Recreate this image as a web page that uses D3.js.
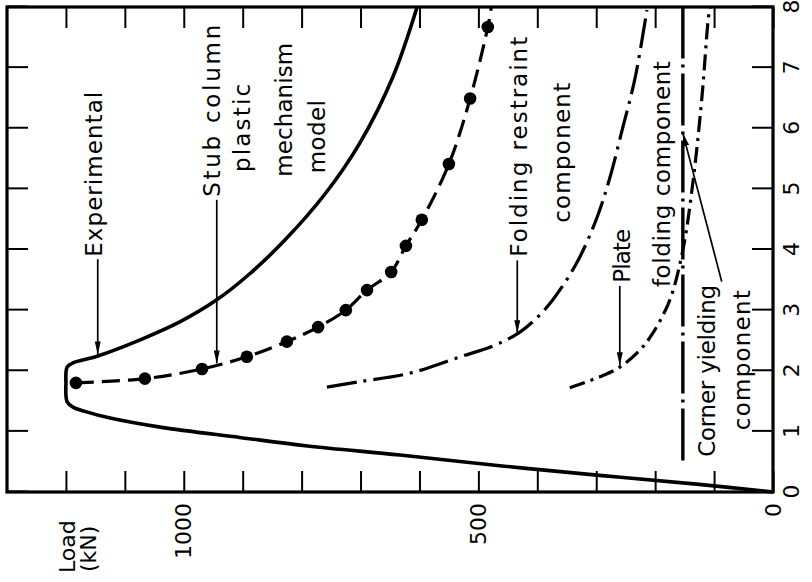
<!DOCTYPE html>
<html>
<head>
<meta charset="utf-8">
<script src="https://cdn.jsdelivr.net/npm/d3@7"></script>
<style>
  body { margin: 0; background: #fff; }
  text { font-family: "DejaVu Sans", sans-serif; fill: #000; }
</style>
</head>
<body>
<div id="chart"></div>
<script>
// displacement (mm) ticks and load (kN) ticks
var dispTicks = [0, 1, 2, 3, 4, 5, 6, 7, 8];
var loadTicks = [0, 100, 200, 300, 400, 500, 600, 700, 800, 900, 1000, 1100, 1200];
var loadLabels = [0, 500, 1000];

// experimental curve
var expDisp = [0, 0.13, 0.27, 0.43, 0.61, 0.76, 0.90, 1.07, 1.22, 1.33, 1.40, 1.49, 1.80, 2.06, 2.13, 2.24, 2.51, 2.81, 3.17, 3.60, 4.16, 4.92, 5.76, 6.85, 8.0];
var expLoad = [0, 130, 290, 460, 633, 790, 905, 1040, 1125, 1168, 1188, 1198, 1200, 1198, 1188, 1147, 1074, 1006, 944, 888, 828, 760, 701, 645, 604];

// stub column plastic mechanism model (points)
var stubDisp = [1.80, 1.87, 2.03, 2.23, 2.48, 2.72, 3.00, 3.33, 3.63, 4.06, 4.49, 5.41, 6.49, 7.67];
var stubLoad = [1183, 1066, 969, 893, 825, 772, 725, 689, 648, 623, 596, 550, 514, 484];
var stubEndDisp = 8.0, stubEndLoad = 478;

// folding restraint component
var foldDisp = [1.73, 1.82, 1.96, 2.23, 2.41, 2.62, 2.88, 3.18, 3.78, 4.52, 5.18, 6.01, 6.83, 7.95];
var foldLoad = [757, 701, 616, 531, 475, 432, 400, 373, 333, 299, 277, 255, 234, 214];

// plate folding component
var plateDisp = [1.72, 1.90, 2.06, 2.34, 2.62, 3.17, 3.99, 5.10, 6.47, 7.79, 8.0];
var plateLoad = [345, 294, 260, 226, 204, 175, 153, 136, 121, 110, 107];

// corner yielding component
var cornerDisp = [0.52, 8.0];
var cornerLoad = [153, 153];

var W = 485, H = 766;   // plot drawn upright, then turned a quarter turn

var svg = d3.select("#chart").append("svg")
    .attr("width", 812)
    .attr("height", 582);

var defs = svg.append("defs");
defs.append("marker")
    .attr("id", "arr")
    .attr("viewBox", "0 0 13 6")
    .attr("refX", 13).attr("refY", 3)
    .attr("markerWidth", 13).attr("markerHeight", 6)
    .attr("markerUnits", "userSpaceOnUse")
    .attr("orient", "auto")
  .append("path")
    .attr("d", "M0,0L13,3L0,6Z")
    .attr("fill", "#000");

var g = svg.append("g")
    .attr("transform", "translate(7,492) rotate(-90)");

var x = d3.scaleLinear().domain([0, 8]).range([0, W]);
var y = d3.scaleLinear().domain([0, 1300]).range([H, 0]);

// axes, ticks inward on all four sides
var tl = 21;
var axB = g.append("g").attr("transform", "translate(0," + H + ")")
    .call(d3.axisBottom(x).tickValues(dispTicks).tickSize(-tl).tickPadding(10));
var axT = g.append("g")
    .call(d3.axisTop(x).tickValues(dispTicks).tickSize(-tl).tickFormat(""));
var axL = g.append("g")
    .call(d3.axisLeft(y).tickValues(loadTicks).tickSize(-tl).tickPadding(11)
      .tickFormat(function(d) { return loadLabels.indexOf(d) >= 0 ? d : ""; }));
var axR = g.append("g").attr("transform", "translate(" + W + ",0)")
    .call(d3.axisRight(y).tickValues(loadTicks).tickSize(-tl).tickFormat(""));

[axB, axT, axL, axR].forEach(function(a) {
  a.select(".domain").remove();
  a.selectAll(".tick line").attr("stroke", "#000").attr("stroke-width", 2);
  a.selectAll("text").attr("font-size", 22).attr("font-family", "DejaVu Sans");
});

// frame
g.append("rect")
    .attr("x", 0).attr("y", 0)
    .attr("width", W).attr("height", H)
    .attr("fill", "none")
    .attr("stroke", "#000")
    .attr("stroke-width", 3.2);

// axis title
g.append("text").attr("x", -81).attr("y", 68).attr("font-size", 22).text("Load");
g.append("text").attr("x", -80).attr("y", 89).attr("font-size", 22).text("(kN)");

var line = d3.line()
    .x(function(d) { return x(d[0]); })
    .y(function(d) { return y(d[1]); })
    .curve(d3.curveCatmullRom.alpha(0.5));

function pts(a, b) { return a.map(function(v, i) { return [v, b[i]]; }); }

// experimental
g.append("path")
    .datum(pts(expDisp, expLoad))
    .attr("d", line)
    .attr("fill", "none").attr("stroke", "#000")
    .attr("stroke-width", 3.6).attr("stroke-linejoin", "round");

// stub column model
var stubPts = pts(stubDisp, stubLoad).concat([[stubEndDisp, stubEndLoad]]);
g.append("path")
    .datum(stubPts)
    .attr("d", line)
    .attr("fill", "none").attr("stroke", "#000")
    .attr("stroke-width", 3.2).attr("stroke-dasharray", "18,8");

g.selectAll(".dot")
    .data(pts(stubDisp, stubLoad))
    .enter().append("circle")
    .attr("class", "dot")
    .attr("cx", function(d) { return x(d[0]); })
    .attr("cy", function(d) { return y(d[1]); })
    .attr("r", 6.3)
    .attr("fill", "#000");

// components
g.append("path")
    .datum(pts(foldDisp, foldLoad))
    .attr("d", line)
    .attr("fill", "none").attr("stroke", "#000")
    .attr("stroke-width", 3.2).attr("stroke-dasharray", "30,7,3,7");

g.append("path")
    .datum(pts(plateDisp, plateLoad))
    .attr("d", line)
    .attr("fill", "none").attr("stroke", "#000")
    .attr("stroke-width", 3.2).attr("stroke-dasharray", "16,6,3,6");

g.append("path")
    .datum(pts(cornerDisp, cornerLoad))
    .attr("d", line)
    .attr("fill", "none").attr("stroke", "#000")
    .attr("stroke-width", 3.4).attr("stroke-dasharray", "52,6,3,6");

// labels: [text, start displacement, baseline load, length]
var labels = [
  ["Experimental", 3.88, 1139, 165],
  ["Stub column", 4.87, 939, 172],
  ["plastic", 5.28, 888, 88],
  ["mechanism", 5.20, 816, 134],
  ["model", 5.26, 760, 73],
  ["Folding restraint", 3.88, 418, 220],
  ["component", 4.44, 345, 140],
  ["Plate", 3.45, 243, 54],
  ["folding component", 3.38, 175, 226],
  ["Corner yielding", 0.58, 98, 172],
  ["component", 1.02, 39, 140]
];
g.selectAll(".lab")
    .data(labels)
    .enter().append("text")
    .attr("class", "lab")
    .attr("x", function(d) { return x(d[1]); })
    .attr("y", function(d) { return y(d[2]); })
    .attr("font-size", 23)
    .attr("textLength", function(d) { return d[3]; })
    .attr("lengthAdjust", "spacing")
    .text(function(d) { return d[0]; });

// pointers: [from disp, from load, to disp, to load]
var arrows = [
  [3.84, 1146, 2.27, 1146],
  [4.82, 944, 2.12, 944],
  [3.82, 434, 2.62, 434],
  [3.40, 260, 2.09, 260],
  [3.47, 87, 5.92, 153]
];
g.selectAll(".arrow")
    .data(arrows)
    .enter().append("line")
    .attr("class", "arrow")
    .attr("x1", function(d) { return x(d[0]); })
    .attr("y1", function(d) { return y(d[1]); })
    .attr("x2", function(d) { return x(d[2]); })
    .attr("y2", function(d) { return y(d[3]); })
    .attr("stroke", "#000")
    .attr("stroke-width", 1.7)
    .attr("marker-end", "url(#arr)");
</script>
</body>
</html>
